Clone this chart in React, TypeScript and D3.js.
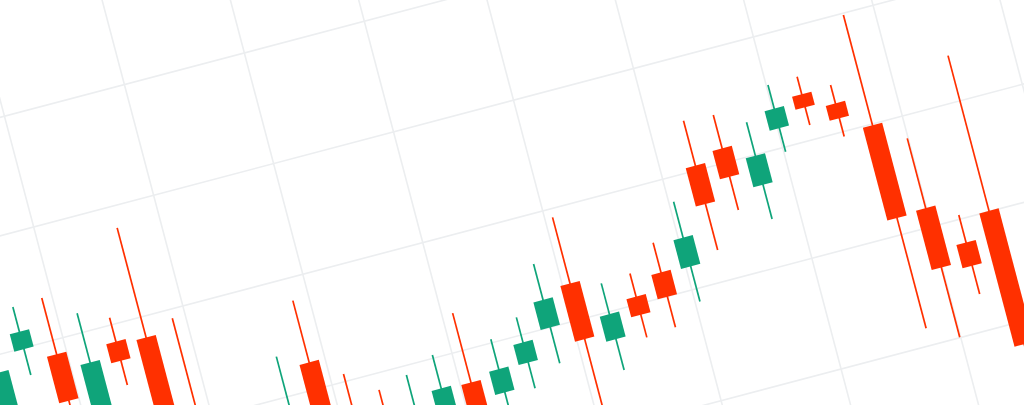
import React from "react";
import * as d3 from "d3";

// Candle data (index = session number)
const opens = [106.18, 109.95, 109.37, 106.18, 109.24, 109.08, 105.09, 104.0, 102.69, 102.9, 106.21, 103.56, 103.34, 102.25, 102.47, 103.56, 102.76, 103.76, 105.0, 106.63, 103.77, 105.34, 106.09, 106.01, 110.21, 110.64, 108.65, 110.86, 112.04, 111.28, 109.94, 105.85, 103.95, 105.03];
const highs = [109.89, 111.85, 111.91, 110.87, 110.32, 114.03, 109.6, 104.65, 104.43, 106.82, 109.0, 105.34, 104.27, 104.59, 105.15, 106.69, 105.16, 105.8, 107.86, 109.62, 106.29, 106.39, 107.43, 108.93, 112.24, 112.15, 111.47, 112.81, 112.83, 112.11, 114.92, 109.0, 105.19, 112.04];
const lows = [105.31, 108.78, 106.62, 105.52, 107.28, 104.43, 102.69, 101.81, 102.03, 102.25, 103.12, 102.03, 102.25, 101.81, 101.81, 101.59, 101.99, 102.6, 103.38, 100.72, 102.38, 103.5, 103.61, 104.42, 106.4, 107.86, 107.1, 109.79, 110.65, 109.78, 100.77, 100.02, 101.62, 97.01];
const closes = [109.24, 110.73, 107.27, 108.65, 108.38, 105.74, 103.56, 102.47, 103.78, 104.21, 104.0, 102.69, 102.69, 102.9, 103.64, 102.25, 103.81, 104.67, 106.24, 104.12, 104.9, 104.52, 104.99, 107.31, 108.48, 109.36, 109.96, 111.74, 111.45, 110.61, 105.75, 103.17, 102.9, 99.01];

// Grid ticks
const priceTicks = [100, 105, 110, 115, 120];
const timeTicks = [2.34, 6.44, 10.54, 14.64, 18.74, 22.84, 26.94, 31.03, 35.13];

const W = 1024;
const H = 405;
const TILT = -14.79;
const UP = "#0FA47A";
const DOWN = "#FF3000";
const GRID = "#ECEEF0";

export default function App() {
  const x = d3.scaleLinear().domain([0, 33]).range([-96.2, 902.4]);
  const y = d3.scaleLinear().domain([100, 120]).range([571.5, 113.5]);
  const step = x(1) - x(0);
  const bw = step * 0.66;

  return (
    <div style={{ position: "absolute", left: 0, top: 0, width: W, height: H, overflow: "hidden", background: "#fff" }}>
      <svg width={W} height={H} style={{ display: "block" }}>
        <rect width={W} height={H} fill="#fff" />
        <g transform={`rotate(${TILT})`}>
          {priceTicks.map((p) => (
            <line key={"h" + p} x1={-600} x2={1600} y1={y(p)} y2={y(p)} stroke={GRID} strokeWidth={1.6} />
          ))}
          {timeTicks.map((t) => (
            <line key={"v" + t} x1={x(t)} x2={x(t)} y1={-600} y2={1200} stroke={GRID} strokeWidth={1.6} />
          ))}
          {opens.map((o, i) => {
            const c = closes[i];
            const up = c >= o;
            const col = up ? UP : DOWN;
            const cx = x(i);
            const top = y(Math.max(o, c));
            const bot = y(Math.min(o, c));
            return (
              <g key={i}>
                <line x1={cx} x2={cx} y1={y(highs[i])} y2={y(lows[i])} stroke={col} strokeWidth={1.7} />
                <rect x={cx - bw / 2} y={top} width={bw} height={Math.max(1, bot - top)} fill={col} />
              </g>
            );
          })}
        </g>
      </svg>
    </div>
  );
}
